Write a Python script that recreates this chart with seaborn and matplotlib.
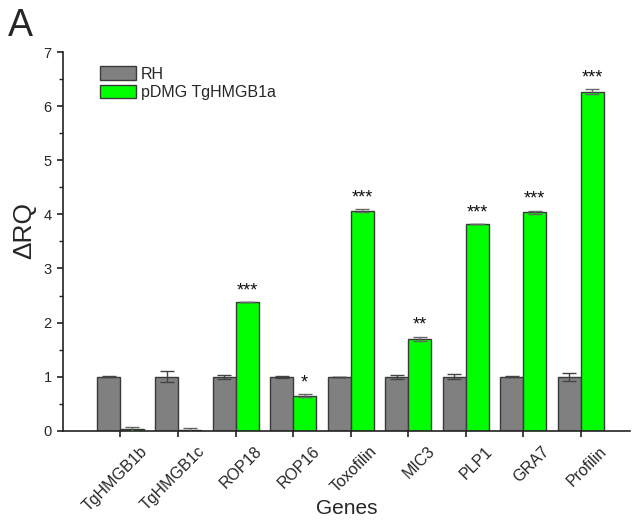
import matplotlib
matplotlib.use("Agg")
import matplotlib.pyplot as plt
import matplotlib.transforms as mtransforms
from matplotlib.ticker import MultipleLocator
import numpy as np
import pandas as pd
import seaborn as sns

genes = ["TgHMGB1b", "TgHMGB1c", "ROP18", "ROP16", "Toxofilin",
         "MIC3", "PLP1", "GRA7", "Profilin"]
groups = ["RH", "pDMG TgHMGB1a"]
rh_values = [1.0, 1.0, 1.0, 1.0, 1.0, 1.0, 1.0, 1.0, 1.0]
rh_errors = [0.01, 0.10, 0.04, 0.02, 0.0, 0.04, 0.05, 0.01, 0.07]
pdmg_values = [0.03, 0.01, 2.38, 0.65, 4.07, 1.70, 3.82, 4.04, 6.27]
pdmg_errors = [0.05, 0.05, 0.0, 0.03, 0.03, 0.04, 0.0, 0.03, 0.04]
stars = ["", "", "***", "*", "***", "**", "***", "***", "***"]

sns.set_theme(style="ticks")
plt.rcParams["font.family"] = ["Liberation Sans", "DejaVu Sans"]

df = pd.DataFrame({
    "gene": genes * 2,
    "group": [groups[0]] * len(genes) + [groups[1]] * len(genes),
    "value": rh_values + pdmg_values,
})

fig = plt.figure(figsize=(6.36, 5.28), dpi=100)
ax = fig.add_axes([0.099, 0.184, 0.891, 0.7175])

palette = {groups[0]: "#808080", groups[1]: "#00ff00"}
sns.barplot(data=df, x="gene", y="value", hue="group", order=genes,
            hue_order=groups, palette=palette, errorbar=None, width=0.8,
            saturation=1, edgecolor="#3a3a3a", linewidth=1.0, ax=ax)

# error bars and significance marks placed on the drawn bars
for container, errs, ecol in zip(ax.containers, [rh_errors, pdmg_errors],
                                 ["#444444", "#666666"]):
    xs = [p.get_x() + p.get_width() / 2 for p in container.patches]
    hs = [p.get_height() for p in container.patches]
    ax.errorbar(xs, hs, yerr=errs, fmt="none", ecolor=ecol, elinewidth=1,
                capsize=5, capthick=1, zorder=3)

green = ax.containers[1]
for p, err, s in zip(green.patches, pdmg_errors, stars):
    if s:
        ax.annotate(s, (p.get_x() + p.get_width() / 2, p.get_height() + err),
                    xytext=(0, 2), textcoords="offset points",
                    ha="center", va="bottom", fontsize=13, color="#111111")

ax.set_xlim(-1.0, 8.85)
ax.set_ylim(0, 7)
ax.yaxis.set_major_locator(MultipleLocator(1))
ax.yaxis.set_minor_locator(MultipleLocator(0.5))
for side in ("top", "right"):
    ax.spines[side].set_visible(False)
for side in ("left", "bottom"):
    ax.spines[side].set_color("#222222")
    ax.spines[side].set_linewidth(1.2)
ax.tick_params(axis="both", which="major", direction="out", length=4.5,
               width=1.2, color="#222222", labelsize=10.5)
ax.tick_params(axis="x", which="major", pad=8.5)
ax.tick_params(axis="y", which="minor", direction="out", length=3,
               width=1.0, color="#222222")
ax.set_xticks(range(len(genes)))
ax.set_xticklabels(genes, rotation=45, ha="right", va="center",
                   rotation_mode="anchor", fontsize=11.5)
shift = mtransforms.ScaledTranslation(24 / 100, 0, fig.dpi_scale_trans)
for lab in ax.get_xticklabels():
    lab.set_transform(lab.get_transform() + shift)

ax.set_xlabel("")
fig.text(0.545, 0.036, "Genes", fontsize=15, ha="center", va="center")
ax.set_ylabel("ΔRQ", fontsize=19)
ax.yaxis.set_label_coords(-0.048, 0.53)

leg = ax.legend(loc="upper left", bbox_to_anchor=(0.065, 0.962), frameon=False,
                fontsize=11.5, handlelength=2.25, handleheight=0.92,
                handletextpad=0.3, labelspacing=0.2, borderaxespad=0,
                borderpad=0)
for h in leg.legend_handles:
    h.set_edgecolor("#3a3a3a")

fig.text(0.012, 0.985, "A", fontsize=27, ha="left", va="top")

fig.savefig("out.png", dpi=100, facecolor="white")
